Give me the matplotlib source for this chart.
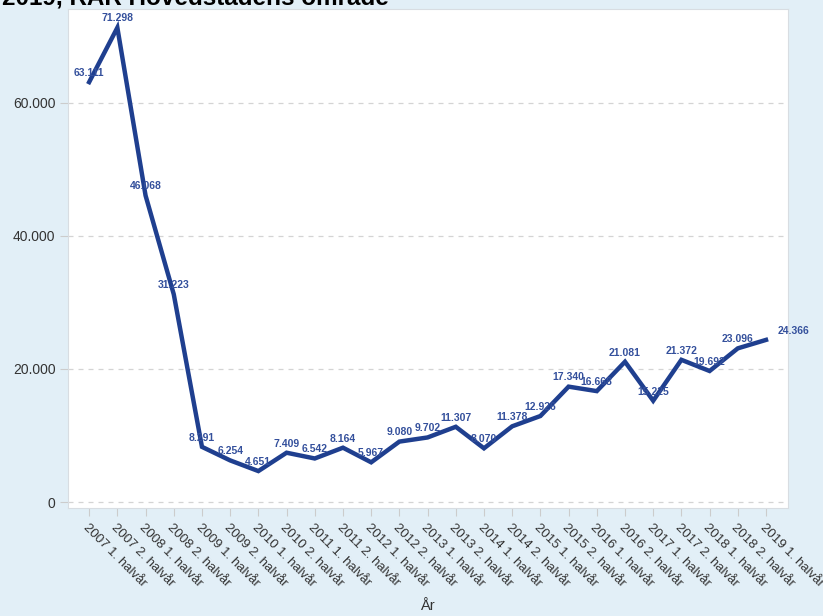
import matplotlib
matplotlib.use("Agg")
import matplotlib.pyplot as plt
from matplotlib.ticker import FuncFormatter

periods = ["2007 1. halvår", "2007 2. halvår", "2008 1. halvår", "2008 2. halvår",
           "2009 1. halvår", "2009 2. halvår", "2010 1. halvår", "2010 2. halvår",
           "2011 1. halvår", "2011 2. halvår", "2012 1. halvår", "2012 2. halvår",
           "2013 1. halvår", "2013 2. halvår", "2014 1. halvår", "2014 2. halvår",
           "2015 1. halvår", "2015 2. halvår", "2016 1. halvår", "2016 2. halvår",
           "2017 1. halvår", "2017 2. halvår", "2018 1. halvår", "2018 2. halvår",
           "2019 1. halvår"]
values = [63111, 71298, 46068, 31223, 8291, 6254, 4651, 7409, 6542, 8164,
          5967, 9080, 9702, 11307, 8070, 11378, 12926, 17340, 16668, 21081,
          15225, 21372, 19692, 23096, 24366]
yticks = [0, 20000, 40000, 60000]

plt.rcParams["font.family"] = ["Liberation Sans", "DejaVu Sans"]

bg = "#e2eff7"
line_col = "#1f3f8f"
lab_col = "#34509c"

def dk(v, pos=None):
    return f"{int(v):,}".replace(",", ".")

fig = plt.figure(figsize=(8.23, 6.16), dpi=100, facecolor=bg)
W, H = 823, 616
ax = fig.add_axes([68 / W, 1 - 508 / H, (788 - 68) / W, (508 - 9) / H])
ax.set_facecolor("white")

x = list(range(len(values)))
ax.plot(x, values, color=line_col, lw=3.2, solid_joinstyle="miter")
for xi, v in zip(x, values):
    dx = 0
    if xi == len(values) - 1:
        dx = 20
    ax.annotate(dk(v), (xi, v), xytext=(dx, 3), textcoords="offset points",
                ha="center", va="bottom", fontsize=7.5, fontweight="bold",
                color=lab_col)

ax.set_xlim(-0.75, 24.78)
ax.set_ylim(-900, 74100)
ax.set_yticks(yticks)
ax.yaxis.set_major_formatter(FuncFormatter(dk))
ax.set_xticks(x)
ax.set_xticklabels(periods, rotation=-45, ha="left", va="top",
                   rotation_mode="anchor", fontsize=9.5, color="#333333")
ax.tick_params(axis="y", length=6, color="#cccccc", labelsize=10,
               labelcolor="#333333", pad=3)
ax.tick_params(axis="x", length=6, color="#cccccc", pad=4)
ax.grid(axis="y", ls=(0, (4, 4)), color="#d4d4d4", lw=0.9)
ax.set_axisbelow(True)
for s in ax.spines.values():
    s.set_color("#d8dde2")
    s.set_linewidth(0.8)

fig.text(427 / W, 1 - 610 / H, "År", ha="center", va="baseline",
         fontsize=10.5, color="#333333")
fig.text(2 / W, 1 - 5 / H, "2019, RAR Hovedstadens område", ha="left",
         va="baseline", fontsize=17.5, fontweight="bold", color="black")

fig.savefig("out.png", dpi=100, facecolor=bg)
